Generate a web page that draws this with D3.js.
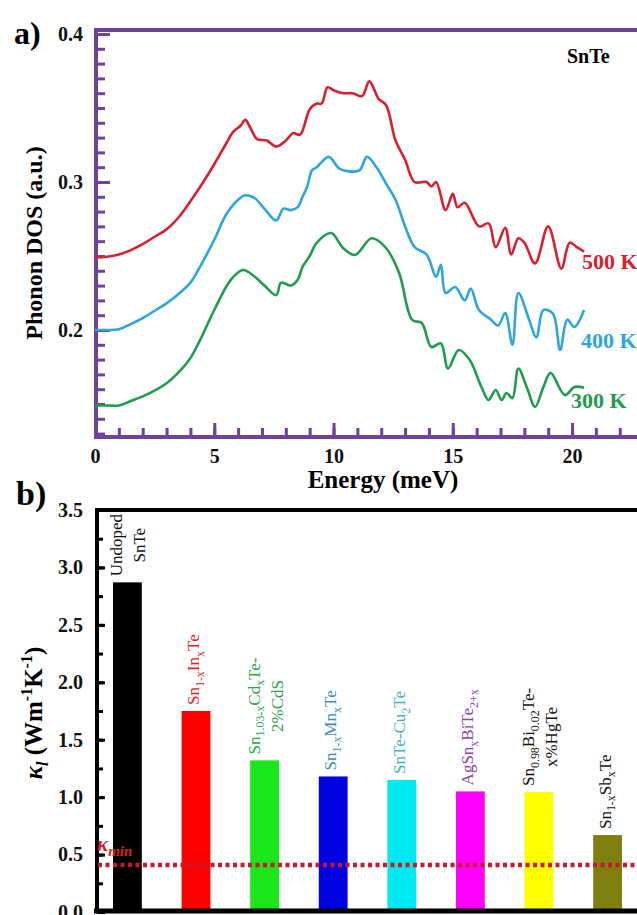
<!DOCTYPE html>
<html>
<head>
<meta charset="utf-8">
<script src="https://cdn.jsdelivr.net/npm/d3@7"></script>
<style>
  body { margin: 0; background: #fff; }
  svg text { font-family: "Liberation Serif", "Times New Roman", serif; }
</style>
</head>
<body>
<svg id="chart" width="637" height="915"></svg>
<script>
// ---- phonon DOS curves, [energy meV, DOS a.u.] ----
const dos500 = [
  [0, 0.249], [0.5, 0.2495], [1, 0.251], [1.5, 0.254], [2, 0.258], [2.5, 0.263], [3, 0.268],
  [3.5, 0.276], [4, 0.287], [4.5, 0.299], [5, 0.312], [5.5, 0.326], [5.8, 0.334], [6.1, 0.338],
  [6.3, 0.342], [6.5, 0.337], [6.8, 0.329], [7.2, 0.328], [7.6, 0.324], [8, 0.328], [8.3, 0.333],
  [8.6, 0.332], [9, 0.349], [9.3, 0.353], [9.5, 0.353], [9.75, 0.364], [10, 0.362], [10.4, 0.36],
  [10.8, 0.36], [11.2, 0.358], [11.5, 0.368], [11.9, 0.356], [12.2, 0.352], [12.6, 0.328],
  [13, 0.315], [13.4, 0.3], [13.9, 0.3], [14.1, 0.297], [14.3, 0.3], [14.7, 0.281], [15, 0.292],
  [15.2, 0.283], [15.5, 0.286], [16.1, 0.27], [16.5, 0.272], [16.8, 0.256], [17.2, 0.269],
  [17.45, 0.251], [17.75, 0.262], [18, 0.259], [18.45, 0.245], [19, 0.27], [19.55, 0.2415],
  [19.9, 0.259], [20.2, 0.256], [20.5, 0.253]
];
const dos400 = [
  [0, 0.2], [0.5, 0.2], [1, 0.2005], [1.5, 0.204], [2, 0.208], [2.5, 0.213], [3, 0.218],
  [3.6, 0.2257], [4, 0.232], [4.4, 0.2426], [5, 0.261], [5.5, 0.278], [6, 0.288], [6.3, 0.291],
  [6.7, 0.289], [7.1, 0.282], [7.6, 0.274], [7.9, 0.282], [8.2, 0.281], [8.5, 0.283], [8.7, 0.29],
  [8.9, 0.297], [9.1, 0.308], [9.3, 0.31], [9.8, 0.317], [10.25, 0.309], [10.8, 0.307],
  [11.1, 0.308], [11.4, 0.317], [11.8, 0.31], [12.2, 0.299], [12.6, 0.288], [13, 0.27],
  [13.4, 0.256], [13.9, 0.251], [14.3, 0.236], [14.5, 0.244], [14.7, 0.225], [15.1, 0.229],
  [15.5, 0.22], [15.75, 0.228], [16.1, 0.2135], [16.6, 0.207], [16.9, 0.203], [17.2, 0.2115],
  [17.5, 0.19], [17.75, 0.225], [18.2, 0.207], [18.5, 0.195], [18.8, 0.2135], [19.2, 0.211],
  [19.5, 0.1865], [19.8, 0.207], [20.1, 0.202], [20.5, 0.2135]
];
const dos300 = [
  [0, 0.149], [0.5, 0.149], [1, 0.149], [1.5, 0.152], [2.3, 0.1574], [3, 0.164], [3.6, 0.173],
  [4, 0.181], [4.4, 0.193], [5, 0.2135], [5.7, 0.234], [6.2, 0.2405], [6.7, 0.236], [7.1, 0.23],
  [7.6, 0.2236], [7.8, 0.232], [8.2, 0.23], [8.5, 0.234], [8.7, 0.2426], [9, 0.25], [9.3, 0.259],
  [9.9, 0.2655], [10.4, 0.2554], [10.9, 0.2507], [11.6, 0.262], [12.2, 0.2554], [12.75, 0.2385],
  [13.3, 0.2068], [13.7, 0.2047], [14.1, 0.1885], [14.5, 0.191], [14.8, 0.174], [15.25, 0.1865],
  [15.7, 0.18], [16.2, 0.1615], [16.5, 0.1527], [16.8, 0.1595], [17.05, 0.1527], [17.25, 0.1574],
  [17.5, 0.154], [17.75, 0.174], [18.1, 0.1615], [18.45, 0.148], [18.8, 0.1615], [19.1, 0.171],
  [19.7, 0.156], [20.1, 0.1615], [20.5, 0.161]
];
const temperatures = ['500 K', '400 K', '300 K'];
const dosTicks = [0.2, 0.3, 0.4];
const energyTicks = [0, 5, 10, 15, 20];

// ---- lattice thermal conductivity ----
const materials = [
  'Undoped|SnTe',
  'Sn_{1-x}In_{x}Te',
  'Sn_{1.03-x}Cd_{x}Te-|2%CdS',
  'Sn_{1-x}Mn_{x}Te',
  'SnTe-Cu_{2}Te',
  'AgSn_{x}BiTe_{2+x}',
  'Sn_{0.98}Bi_{0.02}Te-|x%HgTe',
  'Sn_{1-x}Sb_{x}Te'
];
const kappaL = [2.87, 1.75, 1.32, 1.18, 1.15, 1.05, 1.045, 0.67];
const kappaMin = 0.41;
const kappaTicks = [0, 0.5, 1, 1.5, 2, 2.5, 3, 3.5];

const curveColors = ['#d8202e', '#2ea6dc', '#1f9c4e'];
const barColors = ['#000000', '#ff0000', '#1be51b', '#0000e0', '#00e8f0', '#ff00ff', '#ffff00', '#7f7f10'];
const labelColors = ['#111', '#e2231f', '#2aa84a', '#3a8cbf', '#3cb6c6', '#8e44ad', '#111', '#111'];
const purple = '#6e419e';

const svg = d3.select('#chart');

// writes "A_{sub}B^{sup}" into a text element as tspans
function rich(text, str, size) {
  let shift = 0;
  str.split(/(_\{[^}]*\}|\^\{[^}]*\})/).filter(s => s).forEach(p => {
    let target = 0, s = size, t = p;
    if (p[0] === '_') { target = size * 0.28; s = size * 0.7; t = p.slice(2, -1); }
    else if (p[0] === '^') { target = -size * 0.4; s = size * 0.7; t = p.slice(2, -1); }
    text.append('tspan').attr('dy', target - shift).attr('font-size', s).text(t);
    shift = target;
  });
}

// ================= a) phonon DOS =================
const xE = d3.scaleLinear().domain([0, 23]).range([95, 643.6]);
const yD = d3.scaleLinear().domain([0.1277, 0.4027]).range([437, 30]);
const gA = svg.append('g');

const styleAxis = (g, color, size) => {
  g.select('.domain').remove();
  g.selectAll('line').attr('stroke', color).attr('stroke-width', 3);
  g.selectAll('text').attr('font-size', size).attr('font-weight', 'bold').attr('fill', '#111');
};

gA.append('g').attr('transform', `translate(${xE(0) + 1},0)`)
  .call(d3.axisLeft(yD).tickValues(d3.range(13, 41).map(d => d / 100)).tickSize(-9).tickFormat(''))
  .call(g => styleAxis(g, purple, 20));
gA.append('g').attr('transform', `translate(${xE(0) + 1},0)`)
  .call(d3.axisLeft(yD).tickValues(dosTicks).tickSize(-14).tickPadding(13).tickFormat(d3.format('.1f')))
  .call(g => styleAxis(g, purple, 20));
gA.append('g').attr('transform', `translate(0,${yD.range()[0]})`)
  .call(d3.axisBottom(xE).tickValues(d3.range(1, 23)).tickSize(-9).tickFormat(''))
  .call(g => styleAxis(g, purple, 20));
gA.append('g').attr('transform', `translate(0,${yD.range()[0]})`)
  .call(d3.axisBottom(xE).tickValues(energyTicks).tickSize(-14).tickPadding(12))
  .call(g => styleAxis(g, purple, 20));

// frame: left, top, bottom
gA.append('path')
  .attr('d', `M${xE(0) + 1},${yD.range()[0] + 2}V${yD.range()[1]}H640M${xE(0) - 1},${yD.range()[0]}H640`)
  .attr('fill', 'none').attr('stroke', purple).attr('stroke-width', 4);

const line = d3.line().x(d => xE(d[0])).y(d => yD(d[1])).curve(d3.curveCatmullRom.alpha(0.5));
[dos500, dos400, dos300].forEach((s, i) => {
  gA.append('path').datum(s).attr('d', line)
    .attr('fill', 'none').attr('stroke', curveColors[i]).attr('stroke-width', 2.6);
});

const tempAt = [[20.42, 0.2412], [20.38, 0.1878], [19.96, 0.1473]];
temperatures.forEach((t, i) => {
  gA.append('text').attr('x', xE(tempAt[i][0])).attr('y', yD(tempAt[i][1]))
    .attr('font-size', 22).attr('font-weight', 'bold').attr('fill', curveColors[i]).text(t);
});
gA.append('text').attr('x', 567).attr('y', 63).attr('font-size', 20).attr('font-weight', 'bold').text('SnTe');
gA.append('text').attr('x', 14).attr('y', 44).attr('font-size', 32).attr('font-weight', 'bold').text('a)');
gA.append('text').attr('transform', 'translate(42,243) rotate(-90)').attr('text-anchor', 'middle')
  .attr('font-size', 24).attr('font-weight', 'bold').text('Phonon DOS (a.u.)');
gA.append('text').attr('x', 383).attr('y', 488).attr('text-anchor', 'middle')
  .attr('font-size', 25).attr('font-weight', 'bold').text('Energy (meV)');

// ================= b) lattice thermal conductivity =================
const xB = d3.scaleBand().domain(materials).range([96, 639]).paddingInner(0.58).paddingOuter(0.248);
const yK = d3.scaleLinear().domain([0, 3.5]).range([912, 510]);
const gB = svg.append('g');

gB.selectAll('rect.bar').data(materials).join('rect').attr('class', 'bar')
  .attr('x', d => xB(d)).attr('width', xB.bandwidth())
  .attr('y', (d, i) => yK(kappaL[i])).attr('height', (d, i) => yK(0) - yK(kappaL[i]))
  .attr('fill', (d, i) => barColors[i]);

gB.append('g').attr('transform', 'translate(97,0)')
  .call(d3.axisLeft(yK).tickValues(d3.range(0, 3.5, 0.25)).tickSize(-6).tickFormat(''))
  .call(g => styleAxis(g, '#000', 20));
gB.append('g').attr('transform', 'translate(97,0)')
  .call(d3.axisLeft(yK).tickValues(kappaTicks).tickSize(-8).tickPadding(14).tickFormat(d3.format('.1f')))
  .call(g => styleAxis(g, '#000', 20));

gB.append('path').attr('d', `M97,${yK(0)}V${yK(3.5)}H640`)
  .attr('fill', 'none').attr('stroke', '#000').attr('stroke-width', 4);
gB.append('line').attr('x1', 94).attr('x2', 640).attr('y1', yK(0) - 1).attr('y2', yK(0) - 1)
  .attr('stroke', '#000').attr('stroke-width', 5);

// minimum lattice conductivity
gB.append('line').attr('x1', 98).attr('x2', 640).attr('y1', yK(kappaMin)).attr('y2', yK(kappaMin))
  .attr('stroke', '#c8182c').attr('stroke-width', 4.5).attr('stroke-dasharray', '4,3.5');
const km = gB.append('text').attr('x', 97).attr('y', yK(kappaMin) - 14)
  .attr('fill', '#d62222').attr('font-style', 'italic').attr('font-weight', 'bold');
km.append('tspan').attr('font-size', 21).text('κ');
km.append('tspan').attr('font-size', 15).attr('dy', 5).text('min');

// rotated material labels above each bar
materials.forEach((m, i) => {
  const lines = m.split('|');
  const cx = xB(m) + xB.bandwidth() / 2;
  const base = lines.length > 1 ? cx - 5 : cx + 3;
  const g = gB.append('g')
    .attr('transform', `translate(${base},${yK(kappaL[i]) - 6}) rotate(-90)`)
    .attr('fill', labelColors[i]);
  const t1 = g.append('text').attr('font-size', 17);
  rich(t1, lines[0], 17);
  if (lines.length > 1) {
    const len = t1.node().getComputedTextLength();
    const t2 = g.append('text').attr('font-size', 17).attr('x', len / 2).attr('y', 23)
      .attr('text-anchor', 'middle');
    rich(t2, lines[1], 17);
  }
});

gB.append('text').attr('x', 16).attr('y', 505).attr('font-size', 34).attr('font-weight', 'bold').text('b)');

const yl = gB.append('text').attr('transform', 'translate(42,713) rotate(-90)')
  .attr('text-anchor', 'middle').attr('font-size', 25).attr('font-weight', 'bold');
yl.append('tspan').attr('font-style', 'italic').text('κ');
yl.append('tspan').attr('font-style', 'italic').attr('font-size', 16).attr('dy', 6).text('l');
yl.append('tspan').attr('dy', -6).text(' (Wm');
yl.append('tspan').attr('font-size', 16).attr('dy', -10).text('-1');
yl.append('tspan').attr('dy', 10).text('K');
yl.append('tspan').attr('font-size', 16).attr('dy', -10).text('-1');
yl.append('tspan').attr('dy', 10).text(')');
</script>
</body>
</html>
